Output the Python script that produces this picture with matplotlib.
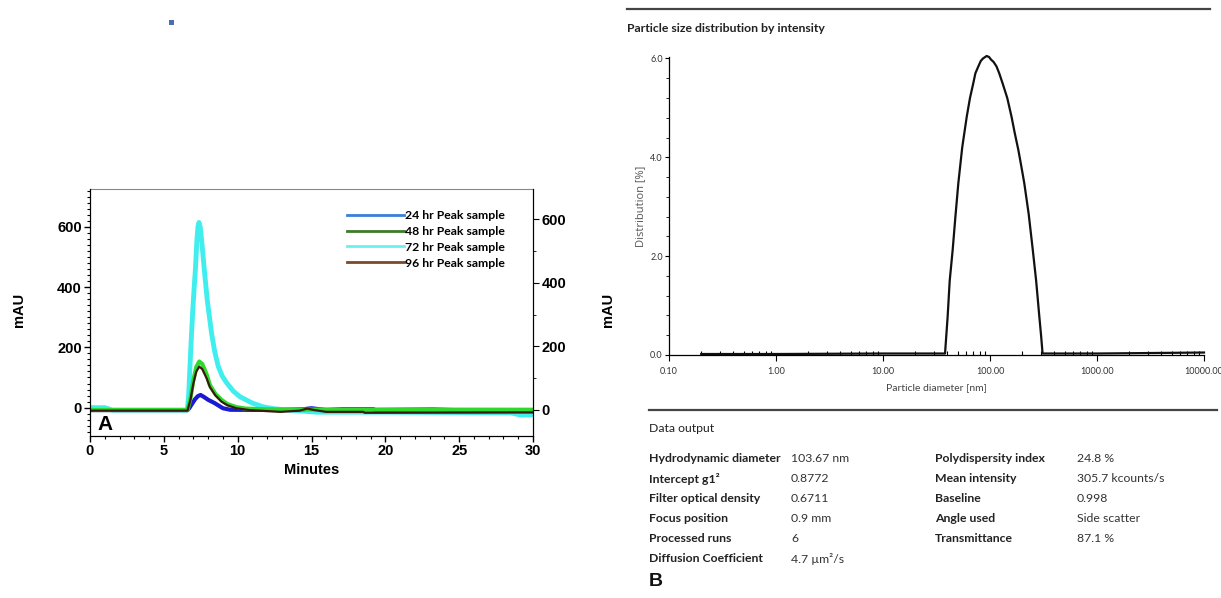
import numpy as np
import matplotlib
matplotlib.use("Agg")
import matplotlib.pyplot as plt
from matplotlib.lines import Line2D
from matplotlib.patches import Rectangle
from matplotlib.ticker import MultipleLocator, FixedLocator, FuncFormatter, LogLocator, NullFormatter

# ---- panel A: HPLC chromatograms (minutes, mAU) ----
t_24 = [0, 6.6, 6.72, 6.9, 7.1, 7.3, 7.49, 7.7, 8.0, 8.44, 9.0, 9.5, 13, 14.5, 15.0, 16, 17.1, 19.2, 19.3, 23.2, 24.6, 30]
mau_24 = [-8, -8, -2, 12, 27, 38, 42, 36, 26, 15, -2, -7, -8, -5, -2, -8, -5, -5, -8, -6, -8, -8]

t_48 = [0, 6.6, 6.8, 7.0, 7.2, 7.4, 7.6, 7.9, 8.12, 8.5, 8.9, 9.3, 9.9, 10.5, 12, 30]
mau_48 = [-8, -8, 30, 92, 135, 153, 145, 110, 75, 45, 26, 12, 2, -3, -6, -7]

t_72 = [0, 1, 1.5, 6.59, 6.68, 6.77, 6.88, 7.0, 7.15, 7.24, 7.31, 7.38, 7.46, 7.56, 7.72, 7.94, 8.23, 8.45, 8.69,
        8.95, 9.26, 9.7, 10.16, 11.0, 11.7, 12.5, 13.5, 15.35, 20, 28.5, 29.1, 30]
mau_72 = [0, 0, -8, -8, 40, 136, 250, 357, 468, 556, 600, 614, 600, 556, 468, 357, 247, 185, 136,
          105, 82, 55, 36, 15, 3, -4, -8, -15, -15, -17, -24, -24]

t_96 = [0, 6.6, 6.8, 7.0, 7.2, 7.4, 7.6, 7.9, 8.12, 8.5, 8.9, 9.3, 9.9, 10.8, 12.9, 14.2, 14.7, 15.2, 16, 18.5,
        18.6, 30]
mau_96 = [-10, -10, 25, 80, 120, 136, 128, 97, 68, 40, 20, 8, -2, -8, -14, -10, -3, -8, -14, -14, -17, -16]

legend_labels = ["24 hr Peak sample", "48 hr Peak sample", "72 hr Peak sample", "96 hr Peak sample"]
legend_colors = ["#3a80d8", "#3e7a2c", "#66f2f2", "#7a4a28"]

# ---- panel B: DLS size distribution (nm, %) ----
diam_nm = [0.2, 1, 10, 38, 40.2, 42, 44.8, 47.5, 50.6, 55, 60.6, 65, 69.8, 73, 77.8, 82, 86, 93, 98, 102, 108,
           115, 122, 131, 145, 159, 170, 184, 195, 209, 230, 251, 270, 289, 300, 310, 1000, 10000]
dist_pct = [0.02, 0.02, 0.03, 0.03, 0.78, 1.5, 2.13, 2.8, 3.48, 4.2, 4.82, 5.2, 5.50, 5.7, 5.84, 5.95, 6.0, 6.05,
            6.03, 5.98, 5.93, 5.84, 5.7, 5.50, 5.2, 4.82, 4.5, 4.15, 3.85, 3.48, 2.85, 2.13, 1.5, 0.78, 0.4,
            0.03, 0.03, 0.05]

out_labels_l = ["Hydrodynamic diameter", "Intercept g1\u00b2", "Filter optical density", "Focus position",
                "Processed runs", "Diffusion Coefficient"]
out_values_l = ["103.67 nm", "0.8772", "0.6711", "0.9 mm", "6", "4.7 \u00b5m\u00b2/s"]
out_labels_r = ["Polydispersity index", "Mean intensity", "Baseline", "Angle used", "Transmittance"]
out_values_r = ["24.8 %", "305.7 kcounts/s", "0.998", "Side scatter", "87.1 %"]

W, H = 1221, 598
ARIAL = "Liberation Sans"
NARROW = ["Lato", "DejaVu Sans"]


def px(x, y):
    return x / W, 1 - y / H


fig = plt.figure(figsize=(W / 100, H / 100), dpi=100)

# ---------------- panel A ----------------
axA = fig.add_axes([90 / W, 1 - 436 / H, 443 / W, 247 / H])
axA.plot(t_72, mau_72, color="#40eeee", lw=3.5, solid_joinstyle="round")
axA.plot(t_24, mau_24, color="#1a1ad0", lw=3)
axA.plot(t_48, mau_48, color="#2ed82e", lw=3)
axA.plot(t_96, mau_96, color="#3a1a0c", lw=1.6)
axA.set_xlim(0, 30)
axA.set_ylim(-94, 725)
axA.xaxis.set_major_locator(MultipleLocator(5))
axA.xaxis.set_minor_locator(MultipleLocator(1))
axA.yaxis.set_major_locator(FixedLocator([0, 200, 400, 600]))
axA.yaxis.set_minor_locator(MultipleLocator(20))
axA.tick_params(which="major", length=4, width=1, pad=2)
axA.tick_params(which="minor", length=2, width=0.8)
for lab in axA.get_xticklabels() + axA.get_yticklabels():
    lab.set_fontfamily(ARIAL)
    lab.set_fontweight("bold")
    lab.set_fontsize(10.5)
axA.spines["top"].set_color("#888888")
axA.set_xlabel("Minutes", fontfamily=ARIAL, fontweight="bold", fontsize=10.5, labelpad=3)

axA2 = axA.twinx()
axA2.set_ylim(-82, 695)
axA2.yaxis.set_major_locator(FixedLocator([0, 200, 400, 600]))
axA2.yaxis.set_minor_locator(MultipleLocator(100))
axA2.tick_params(which="major", length=4, pad=2)
axA2.tick_params(which="minor", length=2)
for lab in axA2.get_yticklabels():
    lab.set_fontfamily(ARIAL)
    lab.set_fontweight("bold")
    lab.set_fontsize(10.5)
axA2.spines["top"].set_visible(False)

handles = [Line2D([], [], color=c, lw=2) for c in legend_colors]
axA.legend(handles, legend_labels, loc="upper left", bbox_to_anchor=(0.57, 0.935), frameon=False,
           handlelength=4.6, handletextpad=0.1, labelspacing=0.4, borderaxespad=0,
           prop={"family": NARROW, "weight": "bold", "size": 8.8})

fig.text(*px(97, 424), "A", fontfamily=ARIAL, fontweight="bold", fontsize=15, va="center")
fig.text(*px(19, 310), "mAU", fontfamily=ARIAL, fontweight="bold", fontsize=10.5, rotation=90,
         ha="center", va="center")
fig.text(*px(608, 310), "mAU", fontfamily=ARIAL, fontweight="bold", fontsize=10.5, rotation=90,
         ha="center", va="center")
fig.patches.append(Rectangle(px(169, 25), 5 / W, 5 / H, transform=fig.transFigure,
                             facecolor="#4a6db5", edgecolor="none"))

# ---------------- panel B ----------------
axB = fig.add_axes([669 / W, 1 - 355 / H, 535 / W, 298 / H])
axB.plot(diam_nm, dist_pct, color="#111111", lw=1.6, clip_on=False, solid_joinstyle="round")
axB.set_xscale("log")
axB.set_xlim(0.1, 10000)
axB.set_ylim(0, 6.03)
axB.xaxis.set_major_locator(LogLocator(base=10, numticks=10))
axB.xaxis.set_minor_locator(LogLocator(base=10, subs=np.arange(2, 10), numticks=10))
axB.xaxis.set_minor_formatter(NullFormatter())
axB.xaxis.set_major_formatter(FuncFormatter(lambda v, p: f"{v:.2f}"))
axB.yaxis.set_major_locator(MultipleLocator(2))
axB.yaxis.set_minor_locator(MultipleLocator(0.4))
axB.yaxis.set_major_formatter(FuncFormatter(lambda v, p: f"{v:.1f}"))
axB.tick_params(axis="x", which="major", direction="out", length=4, width=0.8, pad=5)
axB.tick_params(axis="x", which="minor", direction="in", length=3, width=0.8)
axB.tick_params(axis="y", which="major", direction="out", length=3, width=0.8, pad=1.5)
axB.tick_params(axis="y", which="minor", direction="out", length=2, width=0.6)
for lab in axB.get_xticklabels() + axB.get_yticklabels():
    lab.set_fontfamily(NARROW)
    lab.set_fontsize(6.5)
    lab.set_color("#333333")
axB.spines["top"].set_visible(False)
axB.spines["right"].set_visible(False)
axB.spines["left"].set_linewidth(0.9)
axB.spines["bottom"].set_linewidth(0.9)
axB.set_xlabel("Particle diameter [nm]", fontfamily=NARROW, fontsize=7.5, color="#444444", labelpad=5)
axB.set_ylabel("Distribution [%]", fontfamily=["Open Sans", "DejaVu Sans"], fontsize=8, color="#555555",
               labelpad=3)

fig.add_artist(Line2D([627 / W, 1210 / W], [1 - 9 / H, 1 - 9 / H], color="#444444", lw=1.6))
fig.add_artist(Line2D([649 / W, 1217 / W], [1 - 410 / H, 1 - 410 / H], color="#444444", lw=1.6))
fig.text(*px(627, 28), "Particle size distribution by intensity", fontfamily=NARROW, fontweight="bold",
         fontsize=8.8, color="#222222", va="center")

fig.text(*px(649, 428), "Data output", fontfamily=NARROW, fontsize=8.8, color="#222222", va="center")
row_y = [459, 479, 499, 519, 539, 559]
for y, lab, val in zip(row_y, out_labels_l, out_values_l):
    fig.text(*px(649, y), lab, fontfamily=NARROW, fontweight="bold", fontsize=8.8, color="#222222", va="center")
    fig.text(*px(791, y), val, fontfamily=NARROW, fontsize=8.8, color="#333333", va="center")
for y, lab, val in zip(row_y, out_labels_r, out_values_r):
    fig.text(*px(935, y), lab, fontfamily=NARROW, fontweight="bold", fontsize=8.8, color="#222222", va="center")
    fig.text(*px(1077, y), val, fontfamily=NARROW, fontsize=8.8, color="#333333", va="center")
fig.text(*px(649, 581), "B", fontfamily=ARIAL, fontweight="bold", fontsize=14, color="#111111", va="center")

fig.savefig("out.png", dpi=100)
